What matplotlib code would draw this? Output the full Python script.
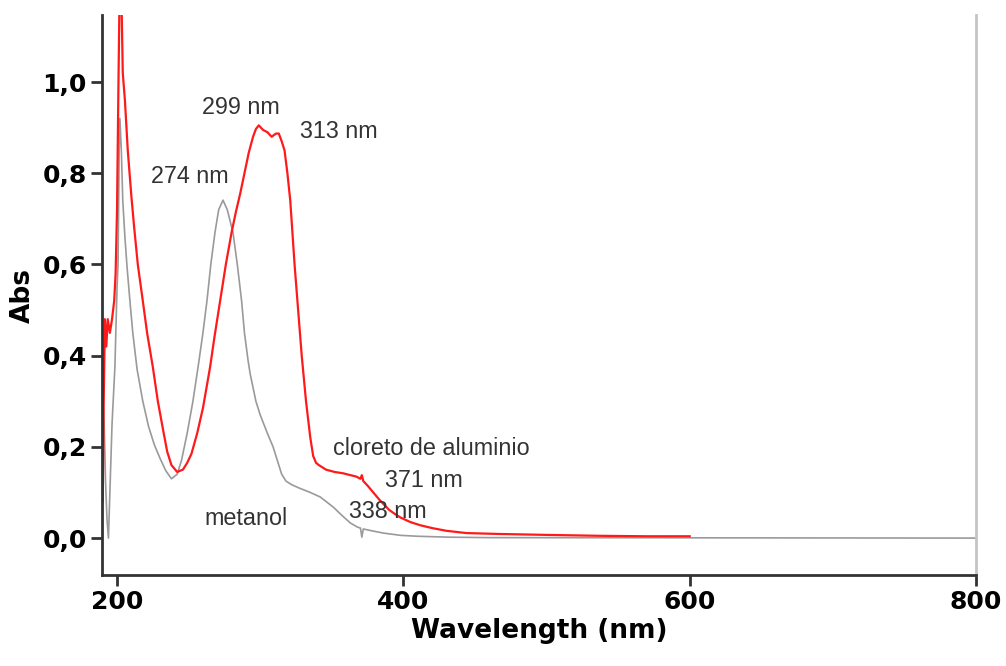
import numpy as np
import matplotlib
matplotlib.use('Agg')
import matplotlib.pyplot as plt
from matplotlib.ticker import FuncFormatter

# cloreto de aluminio (red)
wl_al = [190, 190.7, 191.5, 192.5, 193.5, 195, 196.5, 198, 199, 200, 201, 202, 203,
         204, 205.5, 207.5, 210, 212, 214.5, 218, 221, 225, 228.5, 232, 235, 238, 242,
         246, 249, 252, 256, 260, 265, 268, 272, 276, 280, 283, 286, 289, 292, 295, 297,
         299, 302, 305, 308, 311, 313, 315, 317, 319, 321, 324, 327, 329, 332, 335,
         337, 339, 341, 346, 352, 358, 363, 367, 370, 371, 372, 375, 379, 383, 386,
         390, 394, 398, 405, 412, 420, 430, 444, 467, 500, 537, 570, 600]
abs_al = [0.08, 0.30, 0.48, 0.42, 0.48, 0.45, 0.48, 0.52, 0.58, 0.72, 1.00, 1.25, 1.20,
          1.02, 0.96, 0.85, 0.75, 0.68, 0.60, 0.52, 0.45, 0.375, 0.30, 0.24, 0.19, 0.16, 0.145,
          0.15, 0.165, 0.185, 0.23, 0.285, 0.375, 0.44, 0.52, 0.60, 0.67, 0.715, 0.755, 0.80, 0.845, 0.88, 0.897,
          0.905, 0.895, 0.89, 0.88, 0.887, 0.887, 0.87, 0.85, 0.80, 0.74, 0.60, 0.48, 0.40, 0.30, 0.22,
          0.18, 0.165, 0.16, 0.15, 0.145, 0.142, 0.138, 0.135, 0.13, 0.138, 0.125, 0.115, 0.10, 0.085, 0.075,
          0.062, 0.053, 0.045, 0.035, 0.028, 0.022, 0.016, 0.011, 0.009, 0.007, 0.005, 0.004, 0.004]

# metanol (gray)
wl_me = [190, 191, 192, 193, 194, 195, 196.5, 198.5, 200, 200.7, 201.5, 202, 203, 204,
         205.5, 207, 209, 211, 214, 218, 222, 226, 230, 234, 238, 242, 245, 249, 253,
         256.6, 260, 262.8, 265.5, 268.4, 271, 274, 277, 281, 284, 287, 289, 291.5,
         293, 297, 300, 305, 309, 312, 315, 318, 322, 327, 335, 342, 351, 357,
         363, 368, 370, 371, 372, 378, 386, 398, 410, 432, 460, 800]
abs_me = [0.31, 0.25, 0.12, 0.04, 0.0, 0.10, 0.25, 0.375, 0.55, 0.60, 0.85, 0.92, 0.85, 0.74,
          0.66, 0.594, 0.52, 0.45, 0.37, 0.30, 0.245, 0.205, 0.175, 0.148, 0.13, 0.14, 0.17, 0.23, 0.30,
          0.375, 0.45, 0.52, 0.60, 0.67, 0.72, 0.741, 0.72, 0.67, 0.60, 0.52, 0.45, 0.39,
          0.36, 0.30, 0.27, 0.23, 0.20, 0.17, 0.14, 0.125, 0.117, 0.11, 0.10, 0.09, 0.068, 0.05,
          0.033, 0.024, 0.022, 0.002, 0.02, 0.016, 0.011, 0.006, 0.004, 0.002, 0.001, 0.0]

# annotations: text, x (nm), y (Abs)
labels = ['299 nm', '313 nm', '274 nm', 'metanol', 'cloreto de aluminio', '371 nm', '338 nm']
label_x = [259.4, 327.8, 223.7, 260.8, 350.8, 387.2, 362.0]
label_y = [0.945, 0.8925, 0.792, 0.044, 0.197, 0.127, 0.059]

fig = plt.figure(figsize=(10.06, 6.66), dpi=100)
ax = fig.add_axes([0.1014, 0.1366, 0.8688, 0.8409])

ax.plot(wl_me, abs_me, color='#9a9a9a', lw=1.2)
ax.plot(wl_al, abs_al, color='#ff1a1a', lw=1.6)

for t, x, y in zip(labels, label_x, label_y):
    ax.text(x, y, t, fontsize=16.8, family='Liberation Sans', color='#333333',
            ha='left', va='center')

ax.set_xlim(189.5, 800)
ax.set_ylim(-0.081, 1.147)
ax.set_xticks([200, 400, 600, 800])
ax.set_yticks([0.0, 0.2, 0.4, 0.6, 0.8, 1.0])
ax.yaxis.set_major_formatter(FuncFormatter(lambda v, p: ('%.1f' % v).replace('.', ',')))

ax.spines['top'].set_visible(False)
ax.spines['left'].set_color('#333333')
ax.spines['left'].set_linewidth(2)
ax.spines['bottom'].set_color('#333333')
ax.spines['bottom'].set_linewidth(2)
ax.spines['right'].set_color('#c4c4c4')
ax.spines['right'].set_linewidth(2)

ax.tick_params(direction='out', length=8, width=2, color='#333333', pad=3)
for lab in ax.get_xticklabels() + ax.get_yticklabels():
    lab.set_fontsize(18)
    lab.set_fontweight('bold')
    lab.set_family('DejaVu Sans')

ax.set_xlabel('Wavelength (nm)', fontsize=19, fontweight='bold', labelpad=3)
ax.set_ylabel('Abs', fontsize=19, fontweight='bold', labelpad=5)

fig.savefig('out.png', dpi=100)
